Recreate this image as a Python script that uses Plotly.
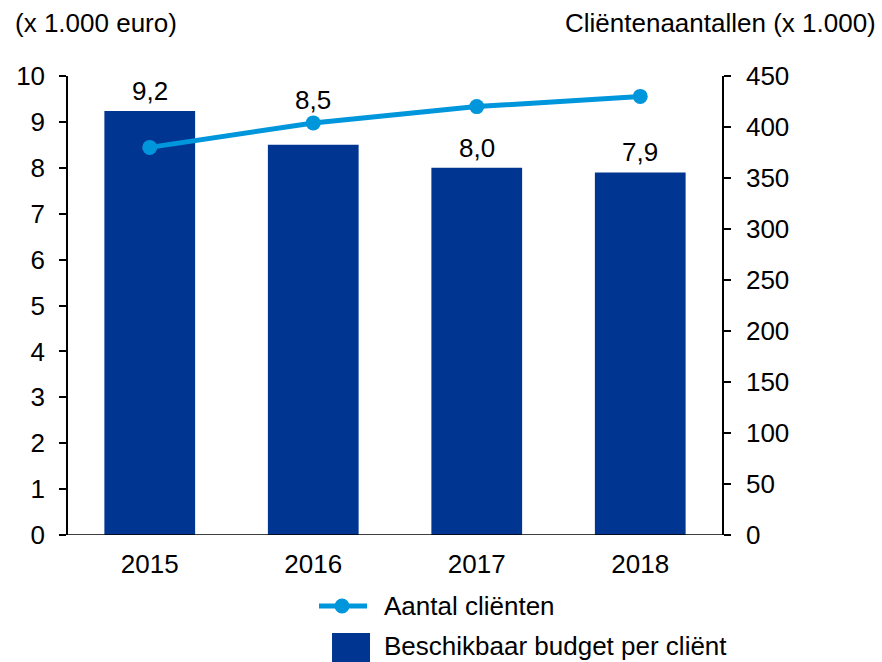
import plotly.graph_objects as go

years = ["2015", "2016", "2017", "2018"]
budget_per_client = [9.24, 8.5, 8.0, 7.9]
budget_labels = ["9,2", "8,5", "8,0", "7,9"]
client_counts = [380, 404, 420, 430]

left_ticks = list(range(0, 11))
right_ticks = list(range(0, 451, 50))

BAR = "#003591"
LINE = "#0096DB"
FONT = "Liberation Sans, Arial, sans-serif"
FS = 26

fig = go.Figure()
fig.add_trace(go.Bar(
    x=years, y=budget_per_client, width=0.555,
    marker=dict(color=BAR, line=dict(width=0)),
    showlegend=False, yaxis="y",
))
fig.add_trace(go.Scatter(
    x=years, y=client_counts, mode="lines+markers",
    line=dict(color=LINE, width=5),
    marker=dict(color=LINE, size=15),
    showlegend=False, yaxis="y2", cliponaxis=False,
))

# bar value labels (2016 lifted above the line)
for i, (yr, val, lab) in enumerate(zip(years, budget_per_client, budget_labels)):
    shift = 28 if yr == "2016" else 3
    fig.add_annotation(x=i, y=val, xref="x", yref="y", text=lab, showarrow=False,
                       yanchor="bottom", yshift=shift,
                       font=dict(size=FS, color="black", family=FONT))

axis_common = dict(
    showgrid=False, zeroline=False, showline=True, linecolor="black", linewidth=1.5,
    ticks="outside", ticklen=7, tickwidth=1.5, tickcolor="black",
    tickfont=dict(size=FS, color="black", family=FONT),
)

fig.update_layout(
    width=882, height=662,
    margin=dict(l=68, r=160, t=76, b=127),
    paper_bgcolor="white", plot_bgcolor="white",
    font=dict(family=FONT, size=FS, color="black"),
    xaxis=dict(type="category", categoryorder="array", categoryarray=years,
               range=[-0.5, len(years) - 0.5],
               showgrid=False, zeroline=False, showline=False,
               ticks="", tickfont=dict(size=FS, color="black", family=FONT),
               ticklabelstandoff=11),
    yaxis=dict(range=[0, 10], tickvals=left_ticks, ticklabelstandoff=9, **axis_common),
    yaxis2=dict(range=[0, 450], tickvals=right_ticks, overlaying="y", side="right",
                ticklabelstandoff=10, **axis_common),
    showlegend=False,
)

# bottom axis line spanning beyond tick marks
fig.add_shape(type="line", xref="paper", yref="y", x0=-0.0107, x1=1.0138, y0=0, y1=0,
              line=dict(color="black", width=1.5))

# axis titles
fig.add_annotation(text="(x 1.000 euro)", xref="paper", yref="paper", x=-0.0841, y=1.1155,
                   xanchor="left", yanchor="middle", showarrow=False,
                   font=dict(size=FS, color="black", family=FONT))
fig.add_annotation(text="Cliëntenaantallen (x 1.000)", xref="paper", yref="paper", x=0.757, y=1.1155,
                   xanchor="left", yanchor="middle", showarrow=False,
                   font=dict(size=FS, color="black", family=FONT))

# manual legend
fig.add_shape(type="line", xref="paper", yref="paper", x0=0.3838, x1=0.4572, y0=-0.1547, y1=-0.1547,
              line=dict(color=LINE, width=5))
fig.add_shape(type="circle", xref="paper", yref="paper", xsizemode="pixel", ysizemode="pixel",
              xanchor=0.419, yanchor=-0.1547, x0=-7.5, x1=7.5, y0=-7.5, y1=7.5,
              fillcolor=LINE, line=dict(width=0))
fig.add_annotation(text="Aantal cliënten", xref="paper", yref="paper", x=0.4801, y=-0.1547,
                   xanchor="left", yanchor="middle", showarrow=False,
                   font=dict(size=FS, color="black", family=FONT))
fig.add_shape(type="rect", xref="paper", yref="paper", x0=0.4037, x1=0.4618, y0=-0.2135, y1=-0.2767,
              fillcolor=BAR, line=dict(width=0))
fig.add_annotation(text="Beschikbaar budget per cliënt", xref="paper", yref="paper", x=0.4801, y=-0.2420,
                   xanchor="left", yanchor="middle", showarrow=False,
                   font=dict(size=FS, color="black", family=FONT))

fig.write_html("out.html", config={"displayModeBar": False},
               post_script="document.body.style.margin='0';document.body.style.overflow='hidden';")
